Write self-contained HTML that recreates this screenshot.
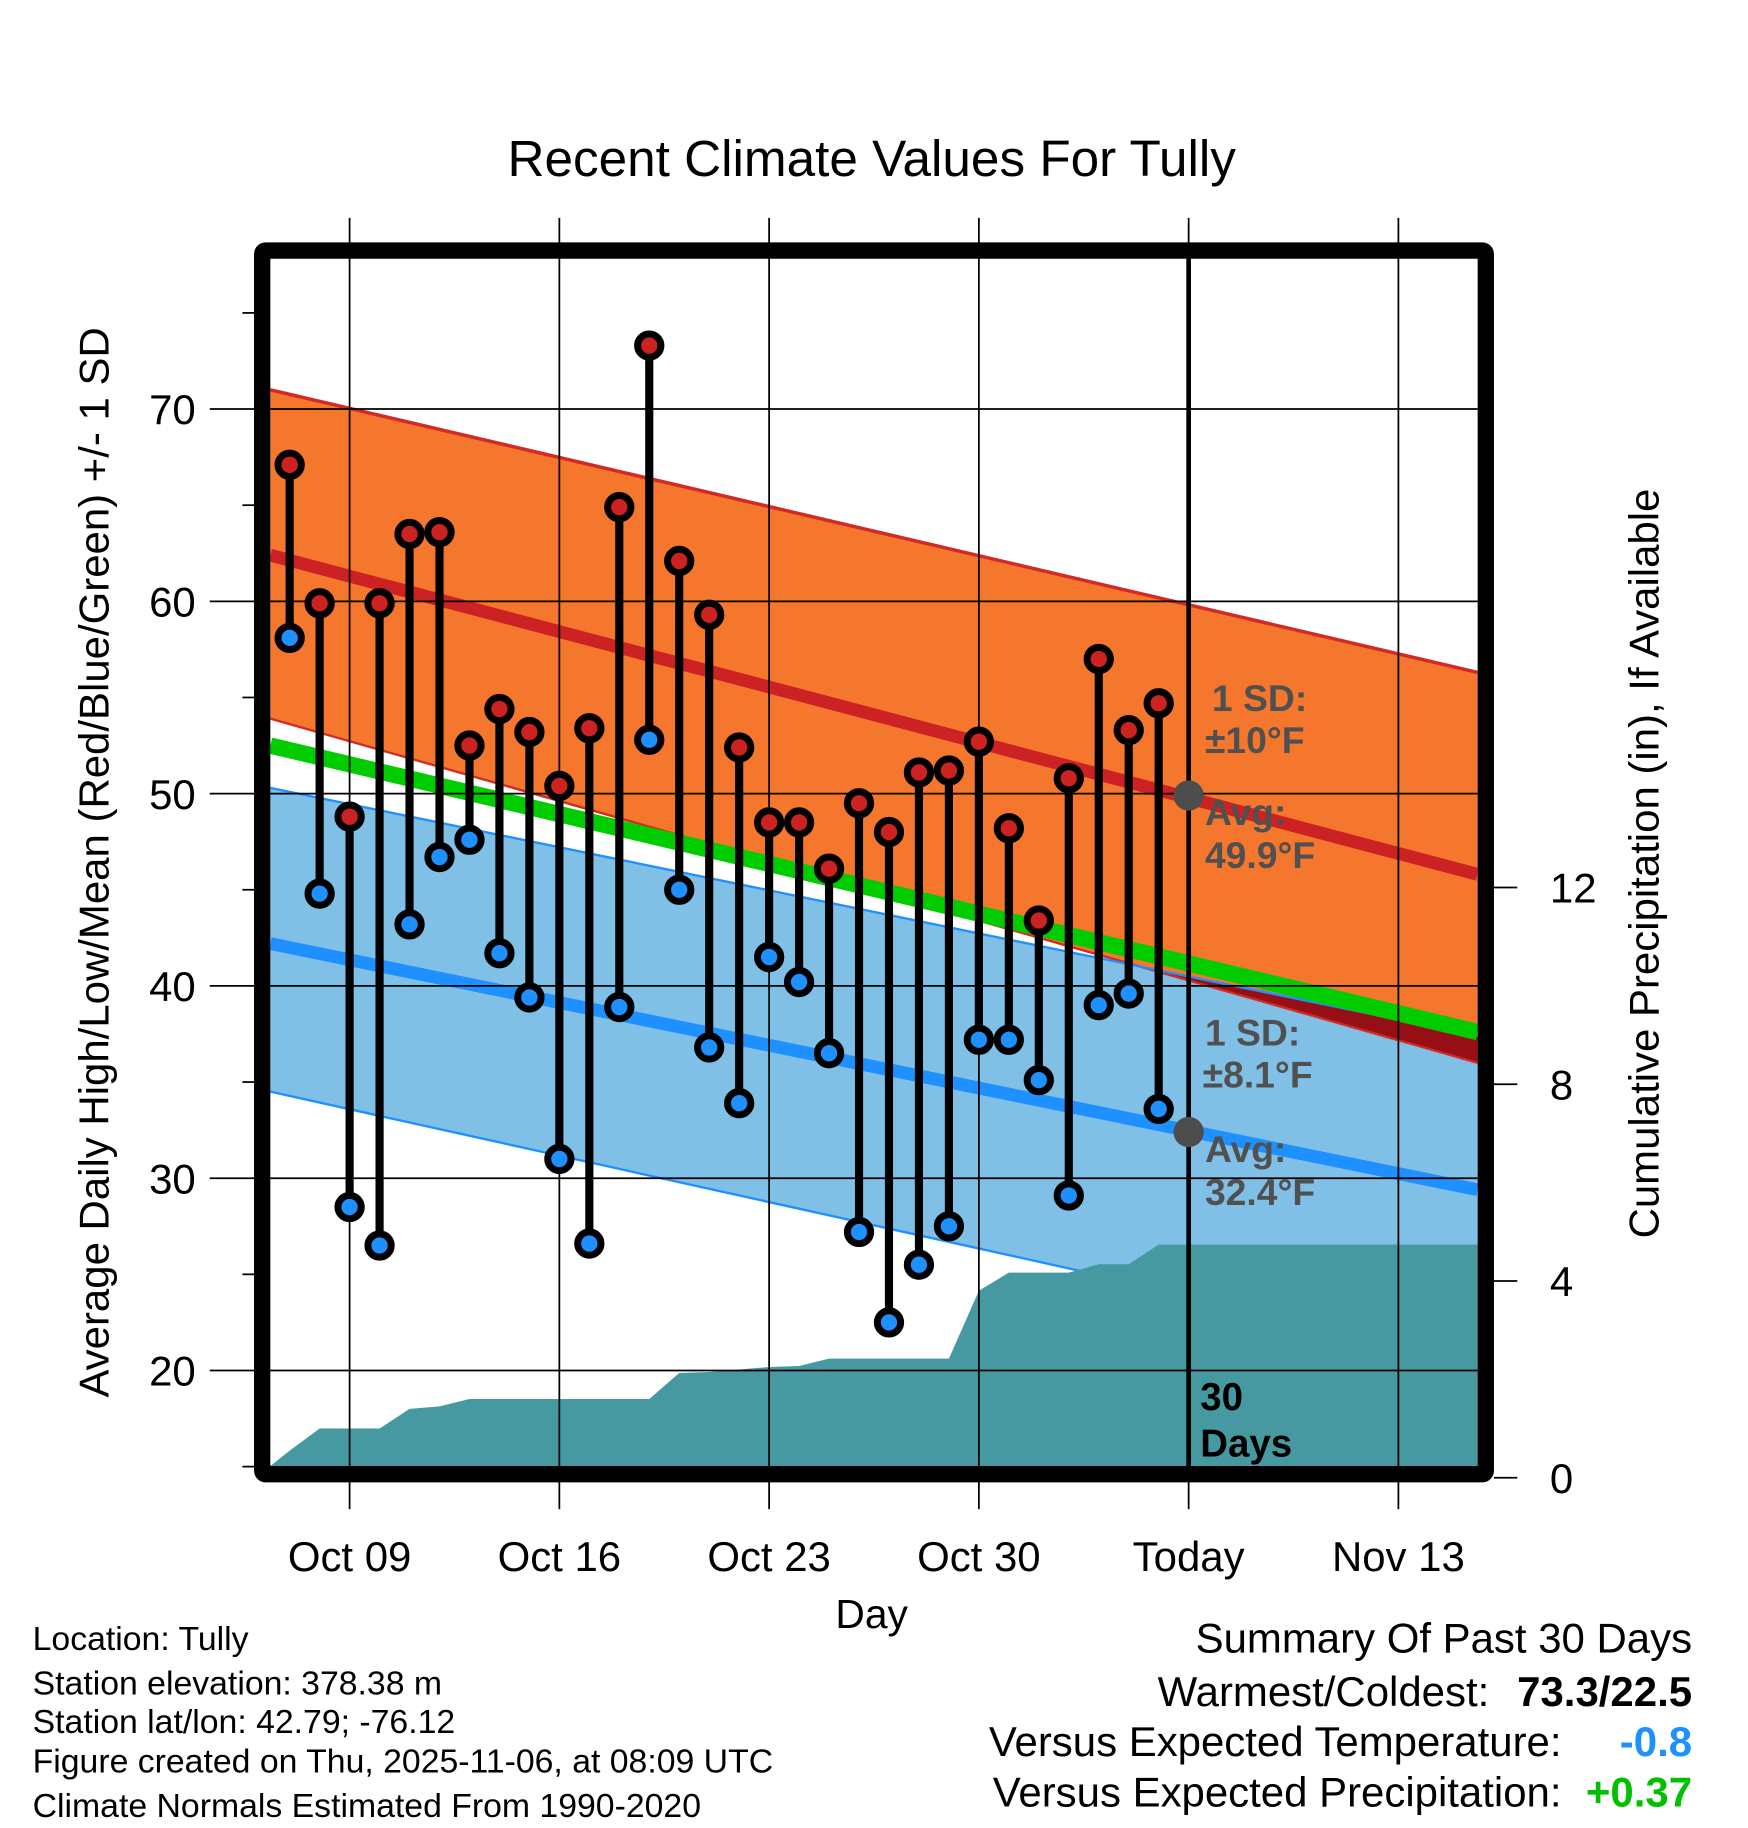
<!DOCTYPE html>
<html><head><meta charset="utf-8"><style>
html,body{margin:0;padding:0;background:#fff}
svg{display:block}
text{font-family:"Liberation Sans",Arial,sans-serif}
</style></head><body>
<svg id="chart" width="1748" height="1828" viewBox="0 0 1500 1568.6" preserveAspectRatio="none" xmlns="http://www.w3.org/2000/svg">
<g id="layer"></g>
</svg>
<script>
// ---- data ----
const dayOffsets = [-2,-1,0,1,2,3,4,5,6,7,8,9,10,11,12,13,14,15,16,17,18,19,20,21,22,23,24,25,26,27];
const highs = [67.1,59.9,48.8,59.9,63.5,63.6,52.5,54.4,53.2,50.4,53.4,64.9,73.3,62.1,59.3,52.4,48.5,48.5,46.1,49.5,48.0,51.1,51.2,52.7,48.2,43.4,50.8,57.0,53.3,54.7];
const lows = [58.1,44.8,28.5,26.5,43.2,46.7,47.6,41.7,39.4,31.0,26.6,38.9,52.8,45.0,36.8,33.9,41.5,40.2,36.5,27.2,22.5,25.5,27.5,37.2,37.2,35.1,29.1,39.0,39.6,33.6];
const precipCum = [0.55,1.0,1.0,1.0,1.4,1.45,1.6,1.6,1.6,1.6,1.6,1.6,1.6,2.13,2.15,2.2,2.25,2.27,2.42,2.42,2.42,2.42,2.42,3.8,4.17,4.17,4.17,4.34,4.34,4.74];
// normals at left edge / right edge of plot
const normHighUpper = [71.0,56.3];
const normHigh = [62.4,45.8];
const normHighLower = [53.9,36.0];
const normMean = [52.5,37.6];
const normLowUpper = [50.3,37.4];
const normLow = [42.2,29.4];
const normLowLower = [34.5,20.6];
const tempTicks = [20,30,40,50,60,70];
const precipTicks = [0,4,8,12];
const xTickDays = [0,7,14,21,28,35];
const xTickLabels = ["Oct 09","Oct 16","Oct 23","Oct 30","Today","Nov 13"];
const todayDay = 28;
const todayHigh = 49.9, todayLow = 32.4;

// ---- axes ----
const L=232,R=1268,T=222,B=1258;
const x = d => 300 + d*180/7;
const y = t => 351 + (70-t)*16.5;
const yp = p => 1268 - p*42.2;
const NS="http://www.w3.org/2000/svg";
const g=document.getElementById('layer');
function mk(tag,attrs,parent){const e=document.createElementNS(NS,tag);for(const k in attrs)e.setAttribute(k,attrs[k]);(parent||g).appendChild(e);return e;}
function lerpEdge(a,xx){return a[0]+(a[1]-a[0])*(xx-L)/(R-L);}

let e;
e=mk('text',{x:748,y:151,'font-size':44,'text-anchor':'middle'});e.textContent='Recent Climate Values For Tully';



function band(up,lo,fill,name){
  const p=mk('polygon',{points:`${L},${y(up[0])} ${R},${y(up[1])} ${R},${y(lo[1])} ${L},${y(lo[0])}`,fill:fill});
  
  
  return p;
}
band(normLowUpper,normLowLower,'#80c0e6','low-sd-band');
band(normHighUpper,normHighLower,'#f5772d','high-sd-band');
(function(){
  const d0=normHighLower[0]-normLowUpper[0], d1=normHighLower[1]-normLowUpper[1];
  if(d0*d1<0){const f=d0/(d0-d1);const xc=L+f*(R-L);const tc=lerpEdge(normHighLower,xc);
    const p=mk('polygon',{points:`${xc},${y(tc)} ${R},${y(normLowUpper[1])} ${R},${y(normHighLower[1])}`,fill:'#960f14'});
    
    }
})();
function nline(a,col,w,name){
  const l=mk('line',{x1:L,y1:y(a[0]),x2:R,y2:y(a[1]),stroke:col,'stroke-width':w});
  
  
}
nline(normHighUpper,'#d22a24',3,'high-upper-sd-line');
nline(normHighLower,'#d22a24',2,'high-lower-sd-line');
nline(normLowUpper,'#1e90ff',2,'low-upper-sd-line');
nline(normLowLower,'#1e90ff',2,'low-lower-sd-line');
nline(normHigh,'#cd2224',11,'normal-high-line');
nline(normLow,'#1e90ff',11,'normal-low-line');
nline(normMean,'#00cc00',14,'normal-mean-line');

(function(){
  let pts=`${L},${B} ${L},${yp(0)>B?B:yp(0)}`;
  for(let i=0;i<dayOffsets.length;i++)pts+=` ${x(dayOffsets[i])},${Math.min(B,yp(precipCum[i]))}`;
  pts+=` ${R},${yp(precipCum[precipCum.length-1])} ${R},${B}`;
  const p=mk('polygon',{points:pts,fill:'#4799a1'});
  
  
})();

tempTicks.forEach(t=>{
  const l=mk('line',{x1:180,y1:y(t),x2:R,y2:y(t),stroke:'#000','stroke-width':1.5});
  
  
  const tx=mk('text',{x:168,y:y(t)+13,'font-size':36,'text-anchor':'end'});tx.textContent=t;
  
  
});
for(let t=15;t<=75;t+=10){mk('line',{x1:208,y1:y(t),x2:218,y2:y(t),stroke:'#000','stroke-width':1.5});}
xTickDays.forEach((d,i)=>{
  const l=mk('line',{x1:x(d),y1:187,x2:x(d),y2:1295,stroke:'#000','stroke-width':1.5});
  
  
  const tx=mk('text',{x:x(d),y:1348,'font-size':36,'text-anchor':'middle'});tx.textContent=xTickLabels[i];
  
  
});
precipTicks.forEach(p=>{
  mk('line',{x1:1282,y1:yp(p),x2:1302,y2:yp(p),stroke:'#000','stroke-width':1.5});
  const tx=mk('text',{x:1330,y:yp(p)+13,'font-size':36});tx.textContent=p;
  
  
});

e=mk('line',{x1:x(todayDay),y1:T,x2:x(todayDay),y2:B,stroke:'#000','stroke-width':4});



dayOffsets.forEach((d,i)=>{
  const s=mk('line',{x1:x(d),y1:y(highs[i]),x2:x(d),y2:y(lows[i]),stroke:'#000','stroke-width':7});
  
  
});
dayOffsets.forEach((d,i)=>{
  const h=mk('circle',{cx:x(d),cy:y(highs[i]),r:10,fill:'#cc2222',stroke:'#000','stroke-width':6});
  
  
  const lo=mk('circle',{cx:x(d),cy:y(lows[i]),r:10,fill:'#1e90ff',stroke:'#000','stroke-width':6});
  
  
});

e=mk('circle',{cx:x(todayDay),cy:y(todayHigh),r:13,fill:'#4d4d4d'});


e=mk('circle',{cx:x(todayDay),cy:y(todayLow),r:13,fill:'#4d4d4d'});


function ann(tx,xx,yy,name,col,size){const t=mk('text',{x:xx,y:yy,'font-size':size||32,'font-weight':'bold',fill:col||'#505050'});t.textContent=tx;
  
  }
ann('1 SD:',1040,610,'high-sd-label');
ann('±10°F',1034,646,'high-sd-value');
ann('Avg:',1034,708,'high-avg-label');
ann('49.9°F',1034,745,'high-avg-value');
ann('1 SD:',1034,897,'low-sd-label');
ann('±8.1°F',1032,933,'low-sd-value');
ann('Avg:',1034,997,'low-avg-label');
ann('32.4°F',1034,1034,'low-avg-value');
ann('30',1030,1210,'period-number','#000',33);
ann('Days',1030,1250,'period-days','#000',33);

e=mk('rect',{x:225,y:215,width:1050,height:1050,fill:'none',stroke:'#000','stroke-width':14,rx:3});



e=mk('text',{x:0,y:0,'font-size':36,'text-anchor':'middle',transform:'translate(93,740) rotate(-90)'});e.textContent='Average Daily High/Low/Mean (Red/Blue/Green) +/- 1 SD';


e=mk('text',{x:0,y:0,'font-size':36,'text-anchor':'middle',transform:'translate(1423,741) rotate(-90)'});e.textContent='Cumulative Precipitation (in), If Available';


e=mk('text',{x:748,y:1397,'font-size':35,'text-anchor':'middle'});e.textContent='Day';



const info=['Location: Tully','Station elevation: 378.38 m','Station lat/lon: 42.79; -76.12','Figure created on Thu, 2025-11-06, at 08:09 UTC','Climate Normals Estimated From 1990-2020'];
const infoY=[1416,1454,1487,1521,1559];
info.forEach((s,i)=>{const t=mk('text',{x:28,y:infoY[i],'font-size':29});t.textContent=s;
  
  });

function sm(tx,xx,yy,name,opts){const t=mk('text',Object.assign({x:xx,y:yy,'font-size':36,'text-anchor':'end'},opts||{}));t.textContent=tx;
  
  }
sm('Summary Of Past 30 Days',1452,1418,'summary-title');
sm('Warmest/Coldest:',1278,1464,'warmest-coldest-label');
sm('73.3/22.5',1452,1464,'warmest-coldest-value',{'font-weight':'bold'});
sm('Versus Expected Temperature:',1340,1507,'temp-departure-label');
sm('-0.8',1452,1507,'temp-departure-value',{'font-weight':'bold',fill:'#1e90ff'});
sm('Versus Expected Precipitation:',1340,1550,'precip-departure-label');
sm('+0.37',1452,1550,'precip-departure-value',{'font-weight':'bold',fill:'#00c000'});
</script>
</body></html>
